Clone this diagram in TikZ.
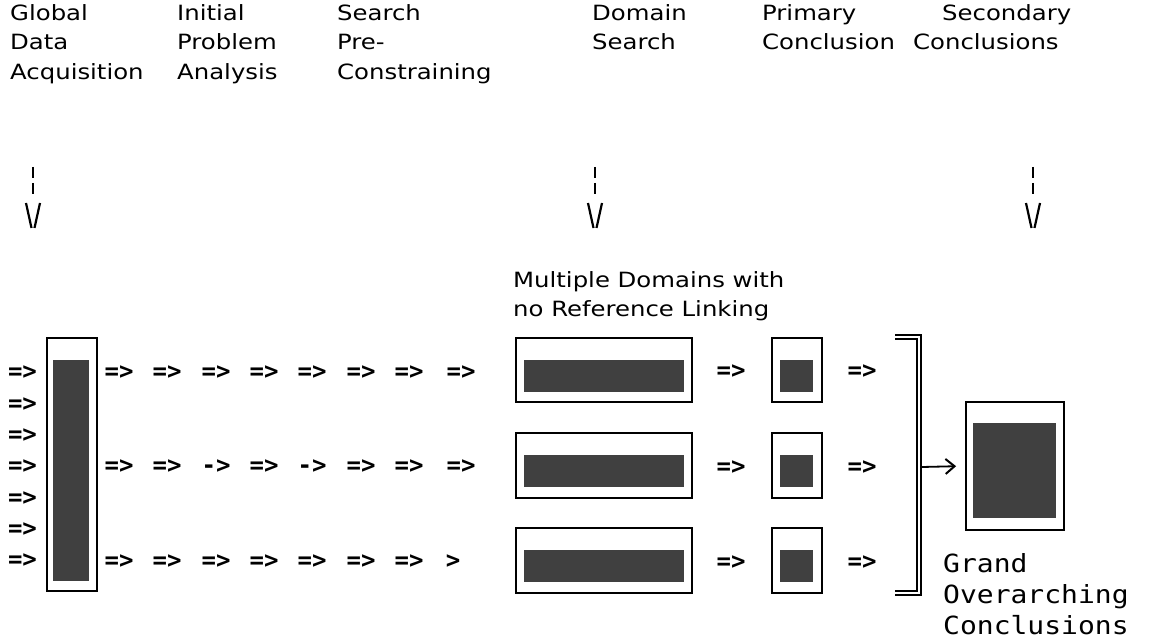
\documentclass[tikz,border=0pt]{standalone}
\usepackage{fontspec}
\setmainfont{DejaVu Sans}
\newfontfamily\hdfont[FakeStretch=1.16]{DejaVu Sans}
\newfontfamily\arfont{DejaVu Sans Mono}
\newfontfamily\gofont[FakeStretch=1.12]{DejaVu Sans Mono}
\usetikzlibrary{arrows.meta}
\begin{document}
\begin{tikzpicture}[x=1pt,y=-1pt,
  hdr/.style={anchor=north west, align=left, inner sep=0pt, font=\hdfont\fontsize{21}{29.5}\selectfont},
  arw/.style={inner sep=0pt, font=\arfont\bfseries\fontsize{24}{24}\selectfont},
  outerbox/.style={draw, line width=1.8pt, fill=white},
  shadebox/.style={fill=black!75, draw=none},
  vline/.style={line width=2.2pt},
  dline/.style={line width=2pt, dash pattern=on 11pt off 5pt},
  gtext/.style={anchor=north west, align=left, inner sep=0pt, font=\gofont\fontsize{25}{31}\selectfont}]
\useasboundingbox (0,0) rectangle (1170,639);

% headers
\node[hdr] (h1) at (10,4) {Global\\Data\\Acquisition};
\node[hdr] (h2) at (177,4) {Initial\\Problem\\Analysis};
\node[hdr] (h3) at (337,4) {Search\\Pre-\\Constraining};
\node[hdr] (h4) at (592,4) {Domain\\Search};
\node[hdr] (h5) at (762,4) {Primary\\Conclusion};
\node[hdr] (h6a) at (942,4) {Secondary};
\node[hdr, anchor=north west] (h6b) at (913,33.5) {Conclusions};

% down arrows
\foreach \i/\x in {1/33,2/595,3/1033}{
  \coordinate (d\i t) at (\x,167);
  \coordinate (d\i b) at (\x,195);
  \draw[dline] (d\i t) -- (d\i b);
  \draw[vline] (\x-7,203) -- (\x-1.5,228);
  \draw[vline] (\x+7,203) -- (\x+1.5,228);
}

% multiple domains label
\node[hdr] (md) at (513,271) {Multiple Domains with\\no Reference Linking};

% left column arrows
\foreach \k in {0,...,6}{
  \node[arw] (l\k) at (22.5,373+\k*31.3) {=>};
}
% left tall box
\draw[outerbox] (47,338) rectangle (97,591);
\fill[shadebox] (53,360) rectangle (89,581);

% row arrows
\foreach \c/\x in {1/119,2/167,3/216,4/264,5/312,6/361,7/409,8/461}{
  \node[arw] (r1c\c) at (\x,373) {=>};
}
\foreach \c/\x/\t in {1/119/=>,2/167/=>,3/216/->,4/264/=>,5/312/->,6/361/=>,7/409/=>,8/461/=>}{
  \node[arw] (r2c\c) at (\x,467) {\t};
}
\foreach \c/\x in {1/119,2/167,3/216,4/264,5/312,6/361,7/409}{
  \node[arw] (r3c\c) at (\x,562) {=>};
}
\node[arw] (r3c8) at (453,562) {>};

% domain boxes and small boxes
\foreach \r/\t/\b/\ft/\fb in {1/338/402/360/392,2/433/498/455/487,3/528/593/550/582}{
  \draw[outerbox] (516,\t) rectangle (692,\b);
  \fill[shadebox] (524,\ft) rectangle (684,\fb);
  \node[arw] (m\r) at (731,{(\t+\b)/2+2}) {=>};
  \draw[outerbox] (772,\t) rectangle (822,\b);
  \fill[shadebox] (780,\ft) rectangle (813,\fb);
  \node[arw] (n\r) at (862,{(\t+\b)/2+2}) {=>};
}

% bracket
\draw[line width=1.4pt, double, double distance=2.6pt] (895,337) -- (919,337) -- (919,593) -- (895,593);
\coordinate (brk) at (922,467);

% grand box
\node[draw, line width=1.8pt, minimum width=98pt, minimum height=128pt, inner sep=0pt] (grand) at (1015,466) {};
\fill[shadebox] (973,423) rectangle (1056,518);
\draw[line width=1.8pt, -{Straight Barb[length=9pt,width=15pt,line width=2pt]}, shorten >=9pt] (brk) -- (grand.west);

\node[gtext] (gt) at (943,553) {Grand\\Overarching\\Conclusions};
\end{tikzpicture}
\end{document}
